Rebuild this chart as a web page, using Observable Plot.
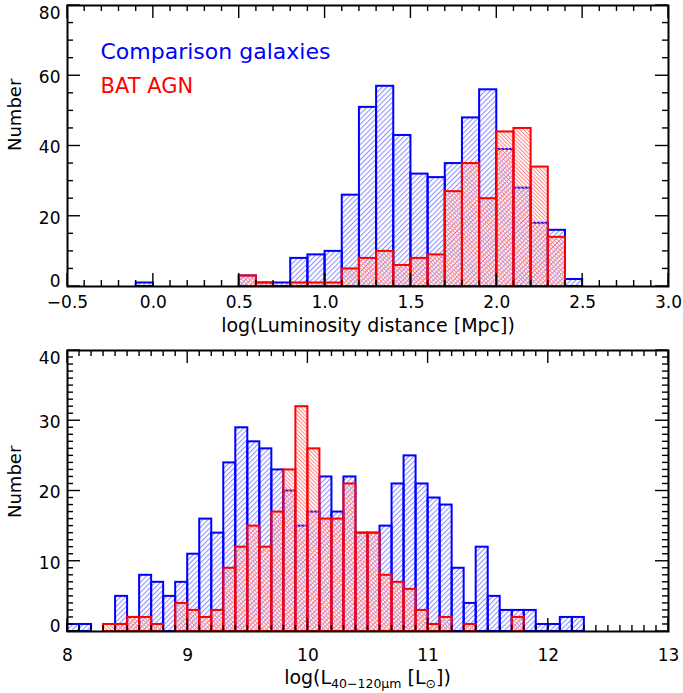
<!DOCTYPE html>
<html>
<head>
<meta charset="utf-8">
<script src="https://cdn.jsdelivr.net/npm/d3@7"></script>
<script src="https://cdn.jsdelivr.net/npm/@observablehq/plot@0.6"></script>
<style>
  html, body { margin: 0; padding: 0; background: #fff; }
  svg { display: block; }
</style>
</head>
<body>
<div id="chart"></div>
<script>
// ---------- Data ----------
// Top panel: log(Luminosity distance [Mpc]), bin left edges (width 0.1)
const topBinStart = [-0.1, 0.0, 0.1, 0.2, 0.3, 0.4, 0.5, 0.6, 0.7, 0.8, 0.9, 1.0, 1.1, 1.2, 1.3, 1.4, 1.5, 1.6, 1.7, 1.8, 1.9, 2.0, 2.1, 2.2, 2.3, 2.4];
const topComparison = [1, 0, 0, 0, 0, 0, 3, 1, 1, 8, 9, 10, 26, 51, 57, 43, 32, 31, 35, 48, 56, 39, 28, 18, 16, 2];
const topBAT        = [0, 0, 0, 0, 0, 0, 3, 1, 0, 1, 1, 1, 5, 8, 10, 6, 8, 9, 27, 35, 25, 44, 45, 34, 14, 0];

// Bottom panel: log(L 40-120um [Lsun]), bin left edges (width 0.1)
const botBinStart = [8.0, 8.1, 8.2, 8.3, 8.4, 8.5, 8.6, 8.7, 8.8, 8.9, 9.0, 9.1, 9.2, 9.3, 9.4, 9.5, 9.6, 9.7, 9.8, 9.9, 10.0, 10.1, 10.2, 10.3, 10.4, 10.5, 10.6, 10.7, 10.8, 10.9, 11.0, 11.1, 11.2, 11.3, 11.4, 11.5, 11.6, 11.7, 11.8, 11.9, 12.0, 12.1, 12.2];
const botComparison = [1, 1, 0, 0, 5, 2, 8, 7, 5, 7, 11, 16, 14, 24, 29, 27, 26, 23, 20, 15, 17, 22, 17, 22, 14, 14, 15, 21, 25, 21, 19, 18, 9, 4, 12, 5, 3, 3, 3, 1, 1, 2, 2];
const botBAT        = [0, 0, 0, 1, 1, 2, 2, 1, 0, 4, 3, 2, 3, 9, 12, 15, 12, 17, 23, 32, 26, 16, 16, 21, 14, 14, 8, 7, 6, 3, 1, 2, 0, 1, 0, 0, 0, 2, 0, 0, 0, 0, 0];

const binWidth = 0.1;

// Tick labels
const topXTicks = [-0.5, 0.0, 0.5, 1.0, 1.5, 2.0, 2.5, 3.0];
const topYTicks = [0, 20, 40, 60, 80];
const botXTicks = [8, 9, 10, 11, 12, 13];
const botYTicks = [0, 10, 20, 30, 40];

const legendLabels = ["Comparison galaxies", "BAT AGN"];
const BLUE = "#0000ff", RED = "#ff0000";
const FONT = "DejaVu Sans";

// ---------- Helpers ----------
const topTable = topBinStart.map((x, i) => ({x1: x, x2: x + binWidth, comp: topComparison[i], bat: topBAT[i]}));
const botTable = botBinStart.map((x, i) => ({x1: x, x2: x + binWidth, comp: botComparison[i], bat: botBAT[i]}));

function hatchDefs(idBlue, idRed) {
  return () => {
    const defs = d3.create("svg:defs");
    const pb = defs.append("pattern").attr("id", idBlue).attr("patternUnits", "userSpaceOnUse")
      .attr("width", 3.6).attr("height", 3.6).attr("patternTransform", "rotate(45)");
    pb.append("line").attr("x1", 0.5).attr("y1", 0).attr("x2", 0.5).attr("y2", 3.6)
      .attr("stroke", "#8f8fff").attr("stroke-width", 1.1);
    const pr = defs.append("pattern").attr("id", idRed).attr("patternUnits", "userSpaceOnUse")
      .attr("width", 2.7).attr("height", 2.7).attr("patternTransform", "rotate(-45)");
    pr.append("line").attr("x1", 0.5).attr("y1", 0).attr("x2", 0.5).attr("y2", 2.7)
      .attr("stroke", "#ff8a8a").attr("stroke-width", 1.1);
    return defs.node();
  };
}

function frameTicks(xMajor, xStep, yMajor, yStep) {
  return (index, scales, values, dims) => {
    const {width, height, marginTop, marginRight, marginBottom, marginLeft} = dims;
    const t = marginTop, b = height - marginBottom, l = marginLeft, r = width - marginRight;
    const g = d3.create("svg:g").attr("stroke", "black").attr("stroke-width", 1.4).attr("fill", "none");
    const seg = (x1, y1, x2, y2) => g.append("line").attr("x1", x1).attr("y1", y1).attr("x2", x2).attr("y2", y2);
    const nx = Math.round((xMajor[xMajor.length - 1] - xMajor[0]) / xStep);
    for (let k = 0; k <= nx; k++) {
      const v = xMajor[0] + k * xStep;
      const major = xMajor.some(m => Math.abs(m - v) < 1e-6);
      const len = major ? 13 : 6;
      const x = scales.x(v);
      seg(x, b, x, b - len); seg(x, t, x, t + len);
    }
    const ny = Math.round((yMajor[yMajor.length - 1] - yMajor[0]) / yStep);
    for (let k = 0; k <= ny; k++) {
      const v = yMajor[0] + k * yStep;
      const major = yMajor.some(m => Math.abs(m - v) < 1e-6);
      const len = major ? 13 : 6;
      const y = scales.y(v);
      seg(l, y, l + len, y); seg(r, y, r - len, y);
    }
    return g.node();
  };
}

// y tick labels: end labels are nudged inside the frame as in the reference
function yLabels(ticks) {
  const last = ticks.length - 1;
  return ticks.map((v, i) => Plot.axisY({
    ticks: [v], tickSize: 0, tickPadding: 7, fontSize: 17, label: null,
    dy: i === 0 ? -5 : i === last ? 8 : 2
  }));
}

function histMarks(table, idBlue, idRed) {
  return [
    Plot.rectY(table, {x1: "x1", x2: "x2", y: "comp", fill: `url(#${idBlue})`}),
    Plot.rectY(table, {x1: "x1", x2: "x2", y: "comp", fill: "none", stroke: BLUE, strokeWidth: 2}),
    Plot.rectY(table, {x1: "x1", x2: "x2", y: "bat", fill: `url(#${idRed})`}),
    Plot.rectY(table, {x1: "x1", x2: "x2", y: "bat", fill: "none", stroke: RED, strokeWidth: 2})
  ];
}

// ---------- Top panel ----------
const topPlot = Plot.plot({
  width: 683,
  height: 340,
  marginTop: 5,
  marginBottom: 54,
  marginLeft: 67,
  marginRight: 15,
  style: {fontFamily: FONT, fontSize: "17px", background: "white", color: "black"},
  x: {domain: [-0.5, 3.0]},
  y: {domain: [0, 80]},
  marks: [
    hatchDefs("hbTop", "hrTop"),
    ...histMarks(topTable, "hbTop", "hrTop"),
    Plot.frame({stroke: "black", strokeWidth: 2}),
    frameTicks(topXTicks, 0.1, topYTicks, 5),
    Plot.axisX({ticks: topXTicks, tickSize: 0, tickPadding: 9, fontSize: 17,
      tickFormat: d => d.toFixed(1).replace("-", "\u2212"), label: null}),
    ...yLabels(topYTicks),
    Plot.text(["log(Luminosity distance [Mpc])"], {frameAnchor: "bottom", dy: 39, fontSize: 19, lineAnchor: "middle"}),
    Plot.text(["Number"], {frameAnchor: "left", dx: -52, dy: 5, rotate: -90, fontSize: 18, lineAnchor: "middle"}),
    Plot.text([legendLabels[0]], {frameAnchor: "top-left", dx: 33, dy: 46, fill: BLUE, fontSize: 22, textAnchor: "start", lineAnchor: "middle"}),
    Plot.text([legendLabels[1]], {frameAnchor: "top-left", dx: 33, dy: 81, fill: RED, fontSize: 21, textAnchor: "start", lineAnchor: "middle"})
  ]
});

// ---------- Bottom panel ----------
function luminosityLabel(index, scales, values, dims) {
  const {width, height, marginLeft, marginRight, marginBottom} = dims;
  const cx = (marginLeft + width - marginRight) / 2;
  const t = d3.create("svg:text")
    .attr("x", cx).attr("y", height - marginBottom + 53)
    .attr("text-anchor", "middle").attr("font-size", 19).attr("fill", "black");
  t.append("tspan").text("log(L");
  t.append("tspan").attr("font-size", 12.5).attr("dy", 4).text("40\u2212120\u03bcm");
  t.append("tspan").attr("dy", -4).text(" [L");
  t.append("tspan").attr("font-size", 12.5).attr("dy", 4).text("\u2299");
  t.append("tspan").attr("dy", -4).text("])");
  return t.node();
}

const bottomPlot = Plot.plot({
  width: 683,
  height: 353,
  marginTop: 10,
  marginBottom: 62,
  marginLeft: 67,
  marginRight: 15,
  style: {fontFamily: FONT, fontSize: "17px", background: "white", color: "black"},
  x: {domain: [8, 13]},
  y: {domain: [0, 40]},
  marks: [
    hatchDefs("hbBot", "hrBot"),
    ...histMarks(botTable, "hbBot", "hrBot"),
    Plot.frame({stroke: "black", strokeWidth: 2}),
    frameTicks(botXTicks, 0.1, botYTicks, 1),
    Plot.axisX({ticks: botXTicks, tickSize: 0, tickPadding: 17, fontSize: 17, tickFormat: d => String(d), label: null}),
    ...yLabels(botYTicks),
    luminosityLabel,
    Plot.text(["Number"], {frameAnchor: "left", dx: -52, dy: 27, rotate: -90, fontSize: 18, lineAnchor: "middle"})
  ]
});

const chart = document.getElementById("chart");
chart.appendChild(topPlot);
chart.appendChild(bottomPlot);
</script>
</body>
</html>
